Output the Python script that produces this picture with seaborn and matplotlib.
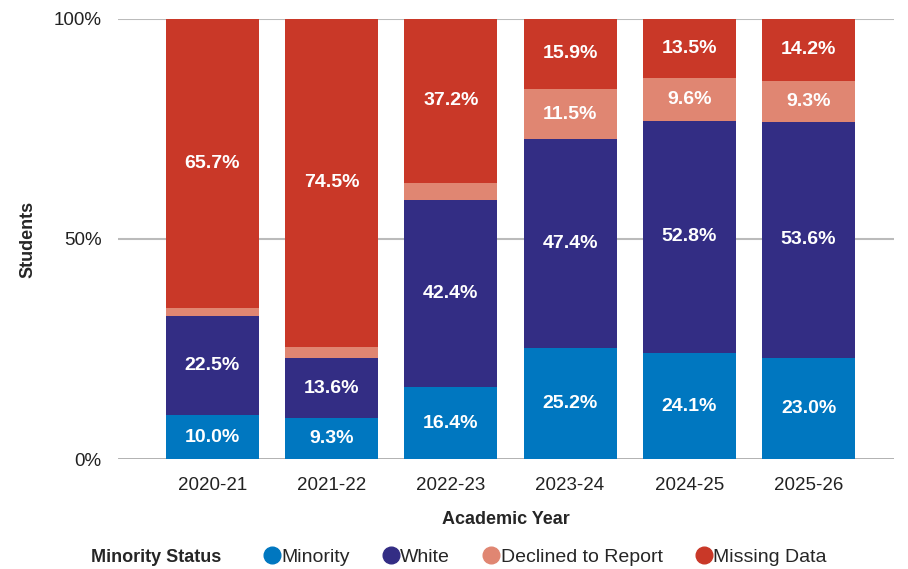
import matplotlib
matplotlib.use("Agg")
import matplotlib.pyplot as plt
import numpy as np
import pandas as pd
import seaborn as sns
from matplotlib.lines import Line2D

years = ["2020-21", "2021-22", "2022-23", "2023-24", "2024-25", "2025-26"]
minority = [10.0, 9.3, 16.4, 25.2, 24.1, 23.0]
white = [22.5, 13.6, 42.4, 47.4, 52.8, 53.6]
declined = [1.8, 2.6, 4.0, 11.5, 9.6, 9.3]
missing = [65.7, 74.5, 37.2, 15.9, 13.5, 14.2]

groups = ["Minority", "White", "Declined to Report", "Missing Data"]
colors = ["#0077C0", "#332D84", "#E08672", "#C93828"]

df = pd.DataFrame({"year": years, "Minority": minority, "White": white,
                   "Declined to Report": declined, "Missing Data": missing})
cum = df[groups].cumsum(axis=1)
bottoms = cum - df[groups]

sns.set_style("white")
plt.rcParams["font.family"] = ["Liberation Sans", "DejaVu Sans"]

fig, ax = plt.subplots(figsize=(9.08, 5.69), dpi=100)
fig.subplots_adjust(left=0.13, right=0.985, top=0.967, bottom=0.193)

for y in [50, 100]:
    ax.axhline(y, color="#BBBBBB", lw=1.5, zorder=0)
ax.axhline(0, color="#AAAAAA", lw=2, zorder=0)

# draw cumulative tops from the back so each stack shows
for g, c in reversed(list(zip(groups, colors))):
    sns.barplot(x=df["year"], y=np.minimum(cum[g], 100), color=c, width=0.78,
                saturation=1, linewidth=0, ax=ax, zorder=2)

for i in range(len(years)):
    for g in groups:
        v = df.loc[i, g]
        if v >= 5:
            mid = bottoms.loc[i, g] + v / 2
            ax.text(i, mid, f"{v:.1f}%", ha="center", va="center", color="white",
                    fontsize=14, fontweight="bold", zorder=3)

ax.set_xlim(-0.79, 5.72)
ax.set_ylim(0, 100)
ax.set_yticks([0, 50, 100])
ax.set_yticklabels(["0%", "50%", "100%"])
ax.tick_params(axis="both", labelsize=13.5, length=0, colors="#222222")
ax.tick_params(axis="x", pad=13)
ax.tick_params(axis="y", pad=12)
ax.set_xlabel("Academic Year", fontsize=13, fontweight="bold", labelpad=12)
ax.set_ylabel("Students", fontsize=13, fontweight="bold", labelpad=12)
sns.despine(ax=ax, left=True, bottom=True)

handles = [Line2D([], [], marker="o", ls="", markersize=12, markerfacecolor=c,
                  markeredgecolor=c) for c in colors]
fig.text(0.1, 0.021, "Minority Status", fontsize=13, fontweight="bold", va="center")
fig.legend(handles, groups, loc="center left", bbox_to_anchor=(0.282, 0.021),
           ncol=4, frameon=False, fontsize=14, handletextpad=-0.3,
           handlelength=1.6, columnspacing=1.3, borderpad=0, borderaxespad=0)

fig.savefig("out.png", dpi=100)
